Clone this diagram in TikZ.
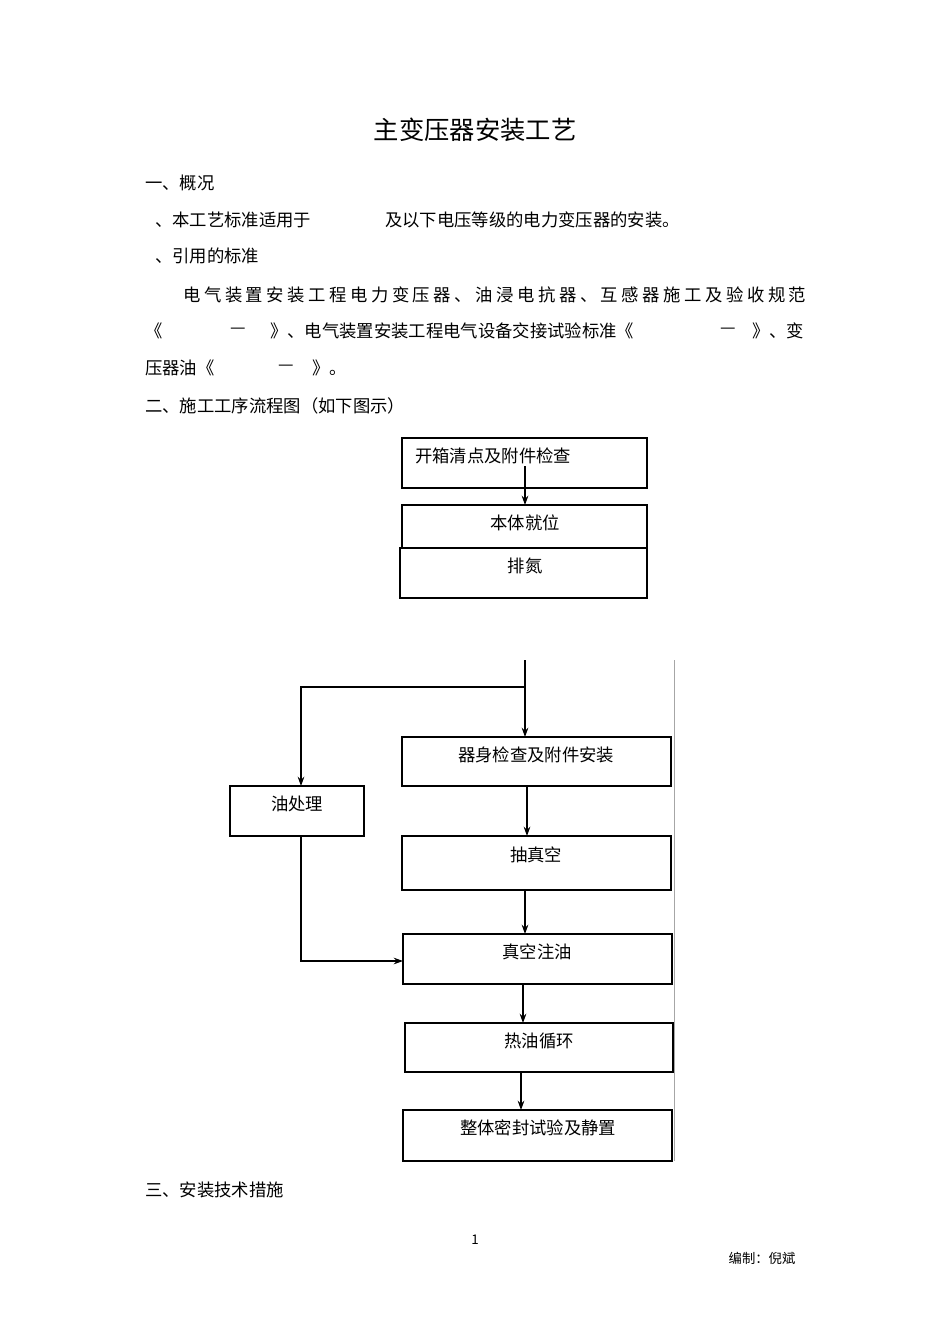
\documentclass[tikz,border=0pt]{standalone}
\usepackage{fontspec}
\setmainfont{Noto Sans CJK SC}
\usetikzlibrary{arrows.meta}
\begin{document}
\begin{tikzpicture}[x=0.75pt,y=-0.75pt,
  t/.style={anchor=west,inner sep=0,font=\fontsize{13}{15}\selectfont},
  bx/.style={draw,line width=0.8pt},
  lb/.style={inner sep=0,font=\fontsize{13}{15}\selectfont},
  ar/.style={line width=0.8pt,-{Stealth[length=7pt,width=5pt]}},
  ln/.style={line width=0.8pt}]
\useasboundingbox[fill=white] (0,0) rectangle (950,1344);
\node[inner sep=0,font=\fontsize{19}{22}\selectfont] (title) at (475,130) {主变压器安装工艺};
\node[t] (s1) at (145,183) {一、概况};
\node[t] (p1) at (155,220) {、本工艺标准适用于};
\node[t] (p1b) at (385,220) {及以下电压等级的电力变压器的安装。};
\node[t] (p2) at (155,256) {、引用的标准};
\node[t,text width=467.25pt,align=justify] (p3) at (183,295) {\XeTeXinterchartokenstate=0 \spaceskip=0pt\relax
\hbox to 467.25pt{电\hfil 气\hfil 装\hfil 置\hfil 安\hfil 装\hfil 工\hfil 程\hfil 电\hfil 力\hfil 变\hfil 压\hfil 器\hfil 、\hfil 油\hfil 浸\hfil 电\hfil 抗\hfil 器\hfil 、\hfil 互\hfil 感\hfil 器\hfil 施\hfil 工\hfil 及\hfil 验\hfil 收\hfil 规\hfil 范}};
\node[t] (p4a) at (145,331) {《};
\node[t] (p4b) at (230,331) {—};
\node[t] (p4c) at (270,331) {》、电气装置安装工程电气设备交接试验标准《};
\node[t] (p4d) at (720,331) {—};
\node[t] (p4e) at (752,331) {》、变};
\node[t] (p5a) at (145,368) {压器油《};
\node[t] (p5b) at (278,368) {—};
\node[t] (p5c) at (312,368) {》。};
\node[t] (s2) at (145,406) {二、施工工序流程图（如下图示）};
\node[t] (s3) at (145,1190) {三、安装技术措施};
\node[inner sep=0,font=\fontsize{10}{12}\selectfont] (pg) at (475,1240) {1};
\node[inner sep=0,font=\fontsize{10}{12}\selectfont] (ed) at (762,1258) {编制：倪斌};
% boxes
\draw[bx] (402,438) rectangle (647,488);
\node[lb,anchor=west] (b1) at (415,456) {开箱清点及附件检查};
\coordinate (b1s) at (525,466);
\draw[ln] (402,505) rectangle (647,548);
\draw[ln] (400,548) rectangle (647,598);
\node[lb] (b2) at (525,523) {本体就位};
\node[lb] (b3) at (525,566) {排氮};
\coordinate (b2n) at (525,505);
\draw[ar] (b1s) -- (b2n);
\draw[bx] (402,737) rectangle (671,786);
\node[lb] (b4) at (536,755) {器身检查及附件安装};
\draw[bx] (230,786) rectangle (364,836);
\node[lb] (oil) at (297,804) {油处理};
\draw[bx] (402,836) rectangle (671,890);
\node[lb] (b5) at (536,855) {抽真空};
\draw[bx] (403,934) rectangle (672,984);
\node[lb] (b6) at (537,952) {真空注油};
\draw[bx] (405,1023) rectangle (673,1072);
\node[lb] (b7) at (539,1041) {热油循环};
\draw[bx] (403,1110) rectangle (672,1161);
\node[lb] (b8) at (538,1128) {整体密封试验及静置};
\draw[gray!70,line width=0.5pt] (674,660) -- (674,1161);
\coordinate (top) at (525,660);
\coordinate (jn) at (525,687);
\coordinate (jw) at (301,687);
\draw[ar] (top) -- (525,737);
\draw[ar] (jn) -- (jw) -- (301,786);
\draw[ar] (527,786) -- (527,836);
\draw[ar] (525,890) -- (525,934);
\draw[ar] (301,836) -- (301,961) -- (403,961);
\draw[ar] (523,984) -- (523,1023);
\draw[ar] (521,1072) -- (521,1110);
\end{tikzpicture}
\end{document}
